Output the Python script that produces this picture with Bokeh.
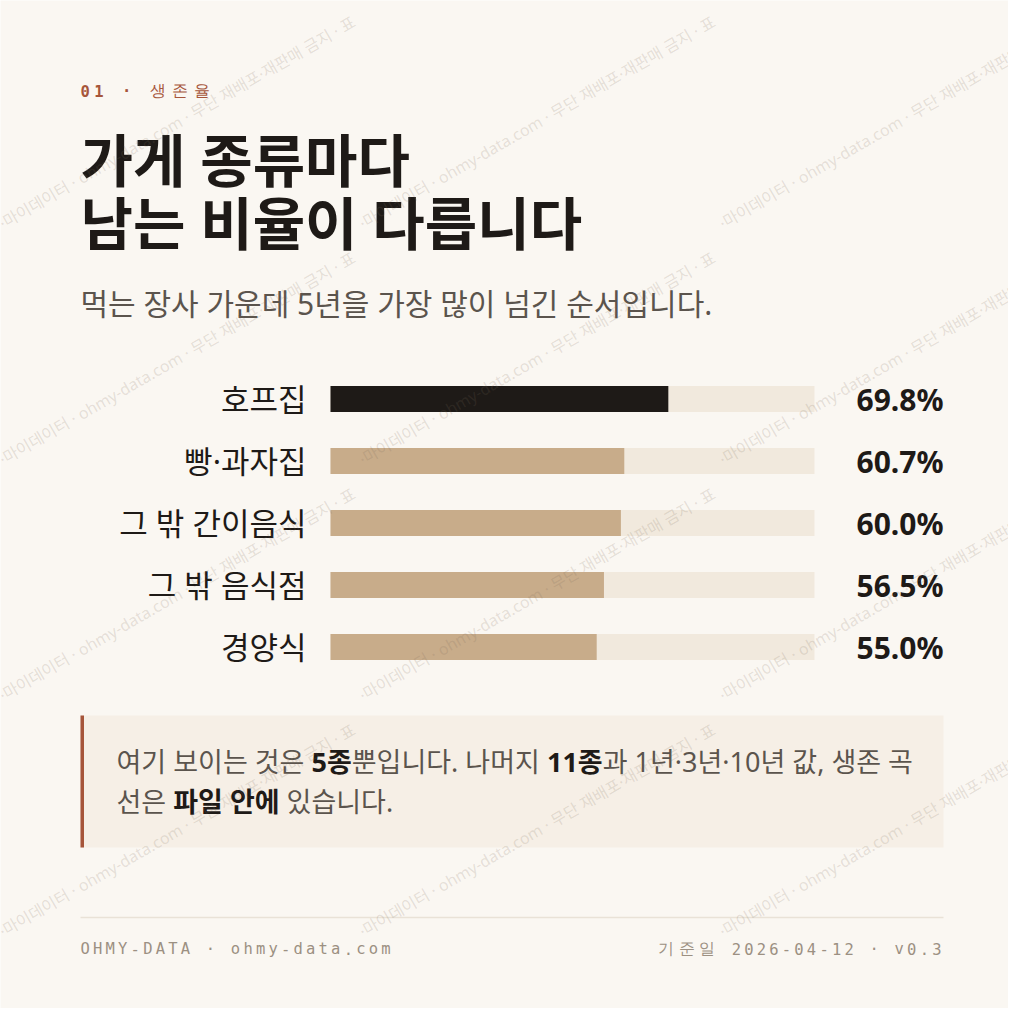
import math

from bokeh.core.properties import value
from bokeh.embed import file_html
from bokeh.models import ColumnDataSource, Range1d
from bokeh.plotting import figure
from bokeh.resources import INLINE

# ─── data ───────────────────────────────────────────────────────────────────
categories = ["호프집", "빵·과자집", "그 밖 간이음식", "그 밖 음식점", "경양식"]
survival_5y = [69.8, 60.7, 60.0, 56.5, 55.0]   # 5년 생존율 (%)
highlight = [True, False, False, False, False]

eyebrow = "01 · 생존율"
title_lines = ["가게 종류마다", "남는 비율이 다릅니다"]
subtitle = "먹는 장사 가운데 5년을 가장 많이 넘긴 순서입니다."
# (text, bold) segments of the note, one list per line
note_lines = [
    [("여기 보이는 것은 ", False), ("5종", True), ("뿐입니다. 나머지 ", False),
     ("11종", True), ("과 1년·3년·10년 값, 생존 곡", False)],
    [("선은 ", False), ("파일 안에", True), (" 있습니다.", False)],
]
footer_left = "OHMY-DATA · ohmy-data.com"
footer_right = "기준일 2026-04-12 · v0.3"
watermark = "·마이데이터 · ohmy-data.com · 무단 재배포·재판매 금지 · 표"

# ─── style ──────────────────────────────────────────────────────────────────
BG = "#FAF7F2"
INK = "#1E1A17"
MUTED = "#5B544D"
RUST = "#A6553A"
TAN = "#C8AC8A"
TRACK = "#F1E9DD"
NOTE_BG = "#F6EFE6"
FOOT = "#9C9082"
KR = value("Noto Sans, Noto Sans CJK KR")
MONO = value("DejaVu Sans Mono")

W = H = 1008

TRACK_L, TRACK_R = 330, 814  # 0 % .. 100 %
ROW0, ROW_STEP, BAR_H = 398.5, 62, 26

p = figure(width=W, height=H,
           x_range=Range1d(0, W), y_range=Range1d(H, 0),
           x_axis_location=None, y_axis_location=None,
           output_backend="svg", toolbar_location=None, min_border=0)
p.grid.visible = False
p.outline_line_color = None
p.background_fill_color = BG
p.border_fill_color = BG

# scales for the bars: percent across, row index down
ppu = (TRACK_R - TRACK_L) / 100.0
p.extra_x_ranges = {"pct": Range1d(-TRACK_L / ppu, (W - TRACK_L) / ppu)}
p.extra_y_ranges = {"row": Range1d((H - ROW0) / ROW_STEP, -ROW0 / ROW_STEP)}


def est_width(text, size):
    """rough advance of a Noto Sans + Noto Sans CJK KR string"""
    w = 0.0
    for ch in text:
        if 0xAC00 <= ord(ch) <= 0xD7A3:
            w += 0.92
        elif ch.isdigit():
            w += 0.572
        elif ch == " ":
            w += 0.26
        elif ch in ".,·":
            w += 0.27
        else:
            w += 0.55
    return w * size


def spaced(text, x, y, size, color, ls, align="left", bold_ascii=False):
    """monospace text with letter spacing, one glyph per character"""
    xs, cur = [], 0.0
    for ch in text:
        w = size * (1.12 if ord(ch) > 0x1100 else 0.602)
        xs.append(cur + w / 2)
        cur += w + ls
    total = cur - ls
    start = x if align == "left" else x - total
    styles = ["bold" if (bold_ascii and ord(ch) < 0x1100) else "normal" for ch in text]
    src = ColumnDataSource(dict(x=[start + v for v in xs], y=[y] * len(text),
                                t=list(text), s=styles))
    p.text("x", "y", text="t", source=src, text_font=MONO, text_font_size=f"{size}px",
           text_font_style="s", text_color=color, text_align="center",
           text_baseline="middle")


# ─── header ─────────────────────────────────────────────────────────────────
spaced(eyebrow, 80, 90, 15.5, RUST, 4.5, bold_ascii=True)

p.text(x=[80, 80], y=[159, 222], text=title_lines, text_font=KR, text_font_size="57px",
       text_font_style="bold", text_color=INK, text_baseline="middle")

p.text(x=[80], y=[303], text=[subtitle], text_font=KR, text_font_size="30px",
       text_color=MUTED, text_baseline="middle")

# ─── bars ───────────────────────────────────────────────────────────────────
src = ColumnDataSource(dict(
    row=list(range(len(categories))),
    cat=categories,
    val=survival_5y,
    label=[f"{v:.1f}%" for v in survival_5y],
    color=[INK if h else TAN for h in highlight],
))

p.hbar(y="row", left=0, right=100, height=BAR_H / ROW_STEP, source=src,
       x_range_name="pct", y_range_name="row", fill_color=TRACK, line_color=None)
p.hbar(y="row", left=0, right="val", height=BAR_H / ROW_STEP, source=src,
       x_range_name="pct", y_range_name="row", fill_color="color", line_color=None)

p.text(x=306, y="row", text="cat", source=src, y_range_name="row",
       text_font=KR, text_font_size="31px", text_color=INK,
       text_align="right", text_baseline="middle")
p.text(x=943, y="row", text="label", source=src, y_range_name="row",
       text_font=KR, text_font_size="30px", text_font_style="bold", text_color=INK,
       text_align="right", text_baseline="middle")

# ─── note box ───────────────────────────────────────────────────────────────
p.quad(left=80, right=943, top=715, bottom=847, fill_color=NOTE_BG, line_color=None)
p.quad(left=80, right=83.5, top=715, bottom=847, fill_color=RUST, line_color=None)

NOTE_SIZE = 27
nx, ny, nt, nc, ns = [], [], [], [], []
for line, y in zip(note_lines, [761, 801]):
    x = 116
    for t, bold in line:
        lead = len(t) - len(t.lstrip(" "))      # svg drops leading blanks
        x += est_width(" " * lead, NOTE_SIZE)
        t = t.lstrip(" ")
        nx.append(x)
        ny.append(y)
        nt.append(t)
        nc.append(INK if bold else MUTED)
        ns.append("bold" if bold else "normal")
        x += est_width(t, NOTE_SIZE)
p.text(x="x", y="y", text="t", source=ColumnDataSource(dict(x=nx, y=ny, t=nt, c=nc, s=ns)),
       text_font=KR, text_font_size=f"{NOTE_SIZE}px", text_color="c", text_font_style="s",
       text_baseline="middle")

# ─── footer ─────────────────────────────────────────────────────────────────
p.segment(x0=[80], y0=[917], x1=[943], y1=[917], line_color="#E9E2D7", line_width=1.5)
spaced(footer_left, 80, 948, 15.5, FOOT, 3.2)
spaced(footer_right, 941, 948, 15.5, FOOT, 3.2, align="right")

# ─── watermark tiles ────────────────────────────────────────────────────────
wx, wy = [], []
for k in range(0, 4):
    for c in range(3):
        wx.append(c * 360)
        wy.append(224 + 236 * k)
p.text(x=wx, y=wy, text=[watermark] * len(wx), angle=math.pi / 6,
       text_font=KR, text_font_size="16px", text_color="#7A6A58", text_alpha=0.18,
       text_baseline="alphabetic")

open("out.html", "w").write(file_html(p, INLINE))
